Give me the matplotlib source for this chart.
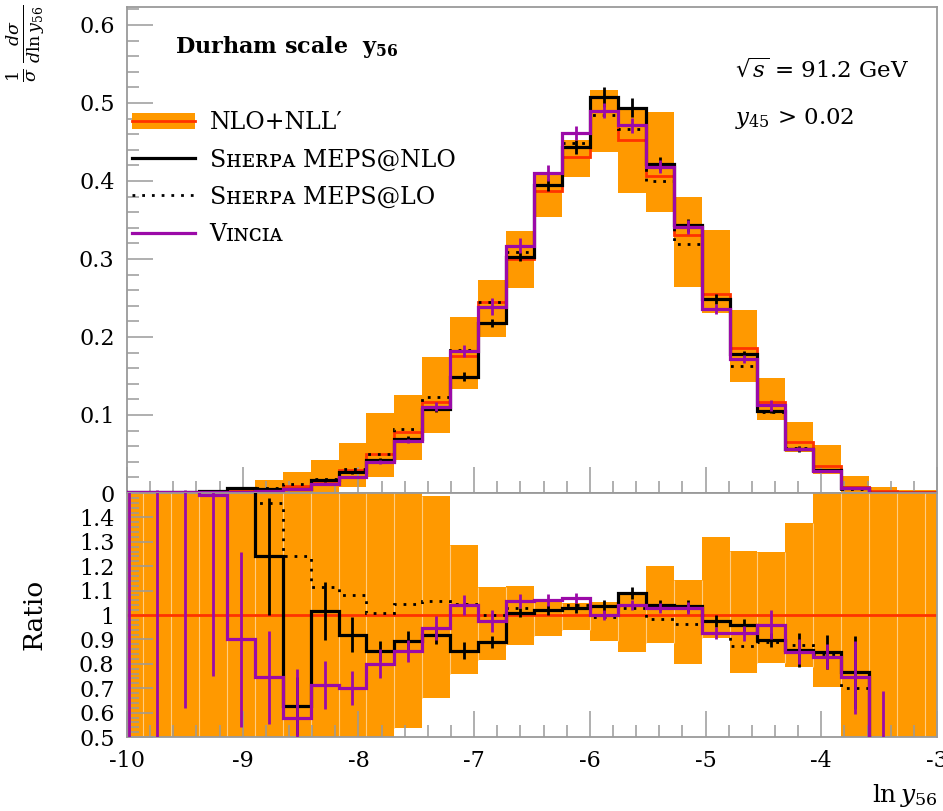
import numpy as np
import matplotlib
matplotlib.use('Agg')
import matplotlib.pyplot as plt
from matplotlib.patches import Patch
from matplotlib.lines import Line2D
from matplotlib.ticker import MultipleLocator

plt.rcParams['font.family'] = ['DejaVu Serif', 'DejaVu Sans']
plt.rcParams['mathtext.fontset'] = 'dejavuserif'
plt.rcParams['axes.unicode_minus'] = False

# ln y56 binning: 30 bins of width 7/29, one edge sits at -6
bin_w = 7 / 29
edges = -6 + (np.arange(31) - 17) * bin_w
centres = 0.5 * (edges[1:] + edges[:-1])

# NLO+NLL' central value and its scale band
nll_central = np.array([0.0003, 0.0004, 0.0006, 0.001, 0.002,
                        0.004, 0.009, 0.016, 0.029, 0.050,
                        0.078, 0.117, 0.175, 0.245, 0.300,
                        0.387, 0.431, 0.490, 0.453, 0.406,
                        0.331, 0.255, 0.186, 0.117, 0.066,
                        0.034, 0.008, 0.002, 0.001, 0.001])
nll_lo = np.array([0.0, 0.0, 0.0, 0.0, 0.0,
                   0.0, 0.0, 0.0, 0.008, 0.021,
                   0.042, 0.077, 0.133, 0.200, 0.263,
                   0.354, 0.405, 0.437, 0.385, 0.360,
                   0.264, 0.231, 0.142, 0.094, 0.052,
                   0.024, 0.0, 0.0, 0.0, 0.0])
nll_hi = np.array([0.001, 0.001, 0.0015, 0.003, 0.006,
                   0.017, 0.027, 0.042, 0.064, 0.103,
                   0.126, 0.174, 0.225, 0.273, 0.336,
                   0.410, 0.453, 0.517, 0.491, 0.488,
                   0.379, 0.337, 0.235, 0.147, 0.091,
                   0.062, 0.022, 0.008, 0.004, 0.004])

# generators, as ratios to NLO+NLL'
nlo_ratio = np.array([3.0, 3.0, 3.0, 3.0, 3.0,
                      1.24, 0.627, 1.016, 0.92, 0.853,
                      0.893, 0.918, 0.853, 0.89, 1.01,
                      1.02, 1.03, 1.035, 1.09, 1.04,
                      1.037, 0.975, 0.958, 0.898, 0.857,
                      0.85, 0.766, 0.0, 0.0, 0.0])
nlo_err = np.array([0, 0, 0, 0, 0,
                    0.24, 0.12, 0.12, 0.07, 0.04,
                    0.04, 0.035, 0.035, 0.025, 0.02,
                    0.02, 0.02, 0.025, 0.025, 0.02,
                    0.025, 0.025, 0.025, 0.03, 0.07,
                    0.07, 0.15, 0, 0, 0])
lo_ratio = np.array([3.0, 3.0, 3.0, 3.0, 3.0,
                     1.46, 1.24, 1.115, 1.08, 1.01,
                     1.045, 1.057, 1.045, 1.0, 1.03,
                     1.02, 1.04, 0.99, 1.03, 0.985,
                     0.963, 0.925, 0.873, 0.89, 0.877,
                     0.84, 0.70, 0.0, 0.0, 0.0])
vin_ratio = np.array([2.5, 2.5, 2.5, 1.49, 0.90,
                      0.745, 0.578, 0.713, 0.70, 0.80,
                      0.852, 0.947, 1.04, 0.975, 1.057,
                      1.06, 1.07, 1.0, 1.04, 1.03,
                      1.03, 0.925, 0.925, 0.96, 0.85,
                      0.83, 0.745, 0.3, 0.0, 0.0])
vin_err = np.array([2.5, 2.5, 1.88, 0.74, 0.36,
                    0.19, 0.2, 0.1, 0.07, 0.06,
                    0.045, 0.05, 0.04, 0.045, 0.03,
                    0.025, 0.02, 0.02, 0.02, 0.02,
                    0.025, 0.025, 0.03, 0.06, 0.05,
                    0.05, 0.15, 0.39, 0, 0])

c_band = '#ff9900'
c_red = '#ff3300'
c_vin = '#9b0aa8'
c_frame = '#9a9a9a'

fig = plt.figure(figsize=(9.43, 8.11), dpi=100)
ax = fig.add_axes([0.1347, 0.3921, 0.859, 0.5993])
rax = fig.add_axes([0.1347, 0.0912, 0.859, 0.3009], sharex=ax)

# --- main distribution ---
nlo_val = nll_central * nlo_ratio
lo_val = nll_central * lo_ratio
vin_val = nll_central * vin_ratio

ax.bar(centres, nll_hi - nll_lo, bottom=nll_lo, width=bin_w, color=c_band, lw=0, zorder=1)
ax.stairs(nll_central, edges, color=c_red, lw=2.0, zorder=2)
ax.stairs(lo_val, edges, color='black', lw=2.0, ls=(0, (1, 2.5)), zorder=3)
ax.stairs(nlo_val, edges, color='black', lw=2.3, zorder=4)
ax.vlines(centres, nlo_val * (1 - nlo_err), nlo_val * (1 + nlo_err), color='black', lw=2.0, zorder=4)
ax.stairs(vin_val, edges, color=c_vin, lw=2.3, zorder=5)
ax.vlines(centres, vin_val * (1 - vin_err), vin_val * (1 + vin_err), color=c_vin, lw=2.0, zorder=5)

ax.set_xlim(-10, -3)
ax.set_ylim(0, 0.623)
ax.yaxis.set_major_locator(MultipleLocator(0.1))
ax.yaxis.set_minor_locator(MultipleLocator(0.02))
ax.yaxis.set_major_formatter(lambda v, p: '%g' % round(v, 2))
ax.tick_params(labelbottom=False)

# --- ratio panel ---
band_lo = nll_lo / nll_central
band_hi = nll_hi / nll_central
rax.bar(centres, band_hi - band_lo, bottom=band_lo, width=bin_w, color=c_band, lw=0, zorder=1)
# light seams between neighbouring band bins
seam_lo = np.maximum(band_lo[:-1], band_lo[1:])
seam_hi = np.minimum(band_hi[:-1], band_hi[1:])
rax.vlines(edges[1:-1], seam_lo, seam_hi, color='#ffcc80', lw=0.8, zorder=1)
rax.stairs(np.ones_like(nll_central), edges, color=c_red, lw=2.0, zorder=2)
rax.stairs(lo_ratio, edges, color='black', lw=2.0, ls=(0, (1, 2.5)), zorder=3)
rax.stairs(nlo_ratio, edges, color='black', lw=2.3, zorder=4)
rax.vlines(centres, nlo_ratio - nlo_err, nlo_ratio + nlo_err, color='black', lw=2.0, zorder=4)
rax.stairs(vin_ratio, edges, color=c_vin, lw=2.3, zorder=5)
rax.vlines(centres, vin_ratio - vin_err, vin_ratio + vin_err, color=c_vin, lw=2.0, zorder=5)

rax.set_ylim(0.5, 1.5)
rax.set_yticks(np.arange(0.5, 1.41, 0.1))
rax.yaxis.set_major_formatter(lambda v, p: '%g' % round(v, 2))
rax.yaxis.set_minor_locator(MultipleLocator(0.02))
rax.xaxis.set_major_locator(MultipleLocator(1))
rax.xaxis.set_minor_locator(MultipleLocator(0.2))
rax.xaxis.set_major_formatter(lambda v, p: '%d' % round(v))

for a in (ax, rax):
    for s in a.spines.values():
        s.set_color(c_frame)
        s.set_linewidth(1.3)
    a.tick_params(which='both', direction='in', color=c_frame, width=1.1,
                  top=False, right=False, labelsize=16, pad=9)
    a.tick_params(which='major', length=19)
    a.tick_params(which='minor', length=8.5)

# --- labels and annotations ---
fig.text(0.028, 0.995, r'$\frac{1}{\sigma}\,\frac{d\sigma}{d\ln y_{56}}$', rotation=90,
         ha='center', va='top', fontsize=18)
fig.text(0.036, 0.242, 'Ratio', rotation=90, ha='center', va='center', fontsize=19)
fig.text(0.994, 0.002, r'$\ln y_{56}$', ha='right', va='bottom', fontsize=18)

ax.text(0.059, 0.918, r'Durham scale  $\mathbf{y_{56}}$', transform=ax.transAxes,
        fontsize=16, fontweight='bold', ha='left', va='center')
ax.text(0.75, 0.87, r'$\sqrt{s}$ = 91.2 GeV', transform=ax.transAxes,
        fontsize=16.5, ha='left', va='center')
ax.text(0.75, 0.77, r'$y_{45}$ > 0.02', transform=ax.transAxes,
        fontsize=16.5, ha='left', va='center')

handles = [(Patch(facecolor=c_band, lw=0), Line2D([], [], color=c_red, lw=2.0)),
           Line2D([], [], color='black', lw=2.3),
           Line2D([], [], color='black', lw=2.0, ls=(0, (1, 2.5))),
           Line2D([], [], color=c_vin, lw=2.3)]
labels = ['NLO+NLL′', 'Sʜᴇʀᴘᴀ MEPS@NLO', 'Sʜᴇʀᴘᴀ MEPS@LO', 'Vɪɴᴄɪᴀ']
ax.legend(handles, labels, loc='upper left', bbox_to_anchor=(0.0, 0.795), frameon=False,
          fontsize=17, handlelength=2.7, handletextpad=0.6, labelspacing=0.6,
          borderaxespad=0.0, borderpad=0.2)

fig.savefig('out.png', dpi=100)
